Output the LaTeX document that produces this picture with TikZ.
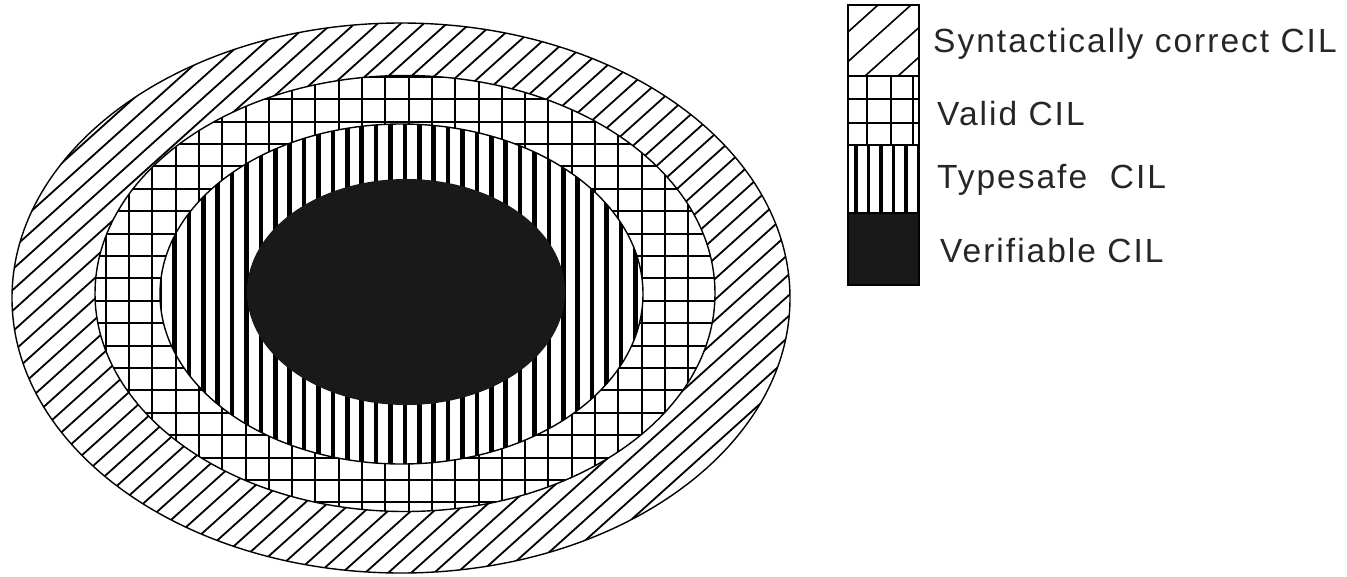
\documentclass[tikz,border=0pt]{standalone}
\usepackage{fontspec}
\setmainfont{Liberation Sans}[LetterSpace=6]
\begin{document}
\begin{tikzpicture}[x=1pt,y=-1pt,
  outline/.style={draw=black,line width=1.4pt},
  hatch/.style={black,line width=1.8pt},
  gridl/.style={black,line width=2pt},
  vstripe/.style={black,line width=4.5pt},
  lbl/.style={anchor=base west,inner sep=0pt,text=black!85,font=\fontsize{33.5}{40}\selectfont}]
\useasboundingbox (0,0) rectangle (1347,576);
% outer ellipse: diagonal hatch
\fill[white] (401,298) ellipse [x radius=389,y radius=275];
\begin{scope}
  \clip (401,298) ellipse [x radius=389,y radius=275];
  \foreach \k in {-700,-677,...,1400} {\draw[hatch] (\k,600) -- ++(667,-600);}
\end{scope}
\draw[outline] (401,298) ellipse [x radius=389,y radius=275];
% grid ellipse
\fill[white] (405,293.5) ellipse [x radius=310,y radius=218];
\begin{scope}
  \clip (405,293.5) ellipse [x radius=310,y radius=218];
  \foreach \i in {-12,...,14} {\draw[gridl] ({362+23.3*\i},60) -- ({362+23.3*\i},530);}
  \foreach \j in {-1,...,20} {\draw[gridl] (80,{76.7+22.4*\j}) -- (730,{76.7+22.4*\j});}
\end{scope}
\draw[outline] (405,293.5) ellipse [x radius=310,y radius=218];
% vertical stripe ellipse
\fill[white] (401.5,294) ellipse [x radius=241.5,y radius=170];
\begin{scope}
  \clip (401.5,294) ellipse [x radius=241.5,y radius=170];
  \foreach \i in {-4,...,32} {\draw[vstripe] ({203.3+14.4*\i},110) -- ({203.3+14.4*\i},480);}
\end{scope}
\draw[outline] (401.5,294) ellipse [x radius=241.5,y radius=170];
% black core
\fill[black!90] (406,292) ellipse [x radius=159,y radius=113];
% legend
\begin{scope}
  \clip (848,5) rectangle (919,76);
  \foreach \k in {700,733,...,940} {\draw[hatch,line width=1.6pt] (\k,76) -- ++(79,-71);}
\end{scope}
\foreach \x in {867,891,913} {\draw[gridl] (\x,76) -- (\x,145);}
\foreach \y in {99,123} {\draw[gridl] (848,\y) -- (919,\y);}
\begin{scope}
  \clip (848,145) rectangle (919,213);
  \foreach \i in {0,...,5} {\draw[vstripe,line width=3.5pt] ({856+12.5*\i},145) -- ({856+12.5*\i},213);}
\end{scope}
\fill[black!90] (848,213) rectangle (919,285);
\draw[black,line width=2pt] (848,5) rectangle (919,285);
\foreach \y in {76,145,213} {\draw[black,line width=2pt] (848,\y) -- (919,\y);}
\node[lbl] (l1) at (933,52) {Syntactically correct CIL};
\node[lbl] (l2) at (937,125) {Valid CIL};
\node[lbl] (l3) at (937,188) {Typesafe\ \ CIL};
\node[lbl] (l4) at (940,262) {Verifiable CIL};
\end{tikzpicture}
\end{document}
